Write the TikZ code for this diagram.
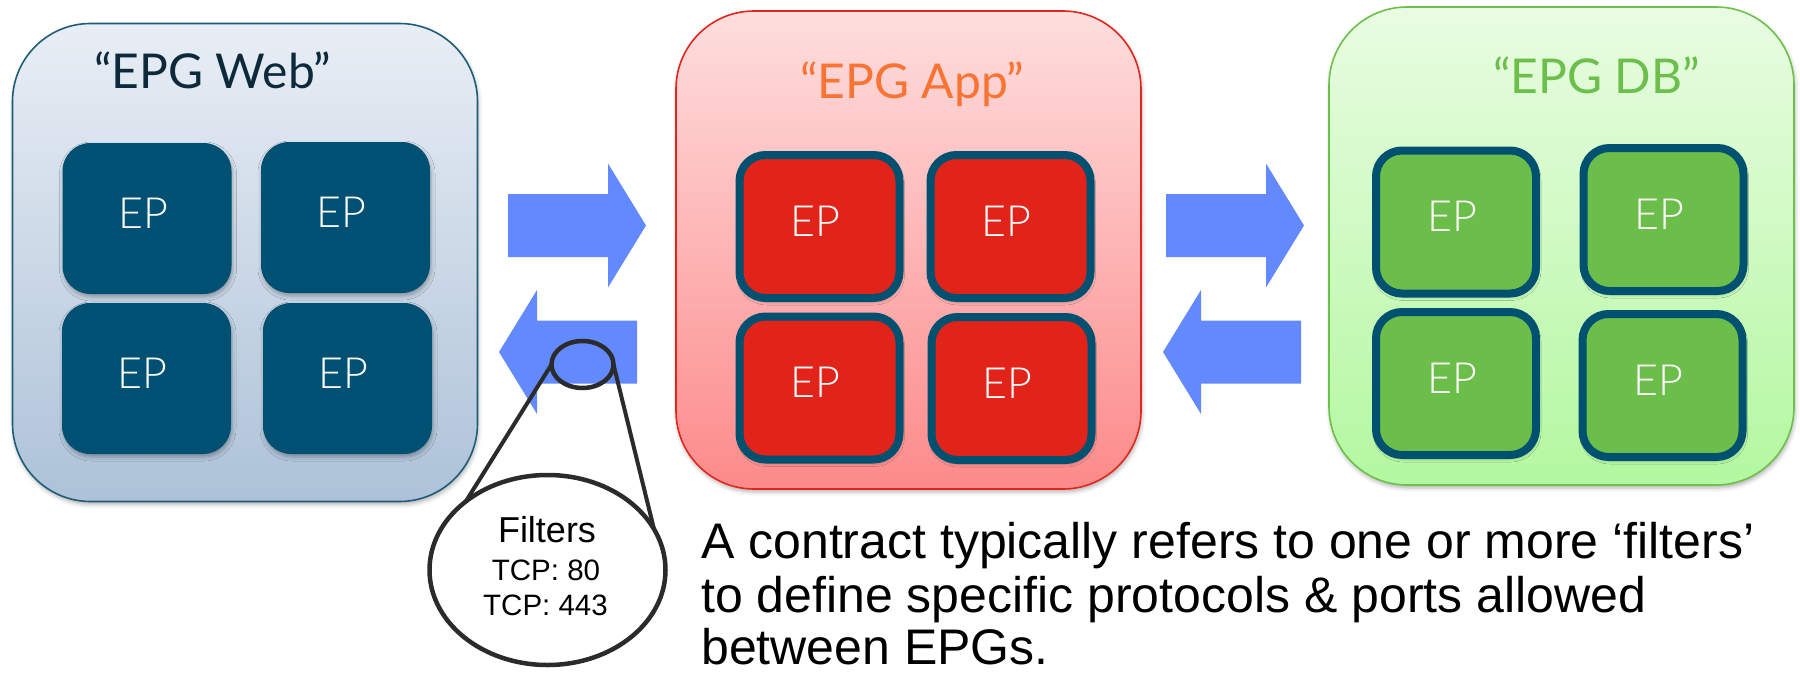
\documentclass[tikz,border=0pt]{standalone}
\usepackage{fontspec}
\setmainfont{Liberation Sans}
\IfFontExistsTF{Lato Light}{\newfontfamily\ciscofont{Lato Light}}{\newfontfamily\ciscofont{Lato}}
\newfontfamily\ciscotitle{Lato}
\usetikzlibrary{shapes.geometric,shadows.blur}

% palette
\definecolor{webtop}{HTML}{E9EEF5}
\definecolor{webbot}{HTML}{ADC2D8}
\definecolor{webline}{HTML}{1F5C7A}
\definecolor{apptop}{HTML}{FEDEDE}
\definecolor{appbot}{HTML}{FD8A8A}
\definecolor{appline}{HTML}{E3261D}
\definecolor{dbtop}{HTML}{E9FCE2}
\definecolor{dbbot}{HTML}{B3F8A0}
\definecolor{dbline}{HTML}{6DC04B}
\definecolor{webep}{HTML}{005073}
\definecolor{appep}{HTML}{E2231A}
\definecolor{dbep}{HTML}{6CBE4B}
\definecolor{epline}{HTML}{00506F}
\definecolor{arrowblue}{HTML}{6389FF}
\definecolor{lensgray}{HTML}{2B2B2B}
\definecolor{webtitle}{HTML}{0D2A3D}
\definecolor{apptitle}{HTML}{F97433}
\definecolor{dbtitle}{HTML}{6CBF4B}

\tikzset{
  softshadow/.style={blur shadow={shadow xshift=1pt, shadow yshift=-3pt,
      shadow blur radius=4pt, shadow opacity=30}},
  group/.style={rounded corners=78pt, line width=1.6pt, minimum width=465pt,
      minimum height=478pt, inner sep=0pt, softshadow},
  grouptitle/.style={anchor=base west, inner sep=0pt,
      font=\ciscotitle\fontsize{48}{48}\selectfont},
  ep/.style={inner sep=0pt, text=white, softshadow,
      font=\ciscofont\fontsize{43}{43}\selectfont,
      text height=31pt, text depth=12pt},
  epplain/.style={ep, fill=webep, rounded corners=28pt,
      minimum width=169pt, minimum height=151pt},
  epframed/.style={ep, draw=epline, line width=8pt, rounded corners=26pt,
      minimum width=160pt, minimum height=143pt},
  pics/fatarrow/.style={code={
      \fill[arrowblue] (0,-31.5) -- (100,-31.5) -- (100,-62) -- (138,0)
        -- (100,62) -- (100,31.5) -- (0,31.5) -- cycle;}},
  lens/.style={ellipse, draw=lensgray, line width=4.5pt, inner sep=0pt,
      outer sep=0pt},
  lensline/.style={draw=lensgray, line width=4pt},
  filtertext/.style={anchor=base, inner sep=0pt},
  note/.style={anchor=base west, inner sep=0pt,
      font=\fontsize{50}{57}\selectfont},
}

\newcommand{\eptext}{EP\hspace*{8pt}}

\begin{document}
\begin{tikzpicture}[x=1pt,y=-1pt]
\useasboundingbox (0,0) rectangle (1800,675);

% endpoint groups
\node[group, draw=webline, top color=webtop, bottom color=webbot] (web) at (245,262.5) {};
\node[group, draw=appline, top color=apptop, bottom color=appbot] (app) at (908.5,250) {};
\node[group, draw=dbline, top color=dbtop, bottom color=dbbot] (db) at (1561.5,246) {};

\node[grouptitle, text=webtitle] (webname) at (94,88) {“EPG Web”};
\node[grouptitle, text=apptitle] (appname) at (800,98) {“EPG App”};
\node[grouptitle, text=dbtitle] (dbname) at (1493,93) {“EPG DB”};

% endpoints of the web group
\node[epplain] (w1) at (147,218.5) {\eptext};
\node[epplain] (w2) at (345.5,217.5) {\eptext};
\node[epplain] (w3) at (146.5,378.5) {\eptext};
\node[epplain] (w4) at (347.5,378.5) {\eptext};

% endpoints of the app group
\node[epframed, fill=appep] (a1) at (819.5,226.5) {\eptext};
\node[epframed, fill=appep] (a2) at (1010.5,226.5) {\eptext};
\node[epframed, fill=appep] (a3) at (819.5,388) {\eptext};
\node[epframed, fill=appep] (a4) at (1011.5,388.5) {\eptext};

% endpoints of the db group
\node[epframed, fill=dbep] (d1) at (1456,222) {\eptext};
\node[epframed, fill=dbep] (d2) at (1663.5,219.5) {\eptext};
\node[epframed, fill=dbep] (d3) at (1456,383.5) {\eptext};
\node[epframed, fill=dbep] (d4) at (1662.5,385.5) {\eptext};

% contract arrows in both directions
\pic (webtoapp) at (508,225.5) {fatarrow};
\pic[rotate=180] (apptoweb) at (637,352) {fatarrow};
\pic (apptodb) at (1166,225.5) {fatarrow};
\pic[rotate=180] (dbtoapp) at (1301,352) {fatarrow};

% magnified filter detail
\node[lens, minimum width=62pt, minimum height=47pt] (lensring) at (582.5,364.5) {};
\node[lens, fill=white, minimum width=236pt, minimum height=190pt] (filters) at (547.5,570) {};
\draw[lensline] (lensring.west) -- (filters.140);
\draw[lensline] (lensring.east) -- (filters.21);

\node[filtertext, font=\fontsize{36}{36}\selectfont] (ft1) at (547,542) {Filters};
\node[filtertext, font=\fontsize{29.5}{30}\selectfont] (ft2) at (546,580) {TCP: 80};
\node[filtertext, font=\fontsize{29.5}{30}\selectfont] (ft3) at (545.5,615) {TCP: 443};

% explanation
\node[note] (n1) at (701,558) {A contract typically refers to one or more ‘filters’};
\node[note] (n2) at (701,612) {to define specific protocols \& ports allowed};
\node[note] (n3) at (701,664) {between EPGs.};
\end{tikzpicture}
\end{document}
